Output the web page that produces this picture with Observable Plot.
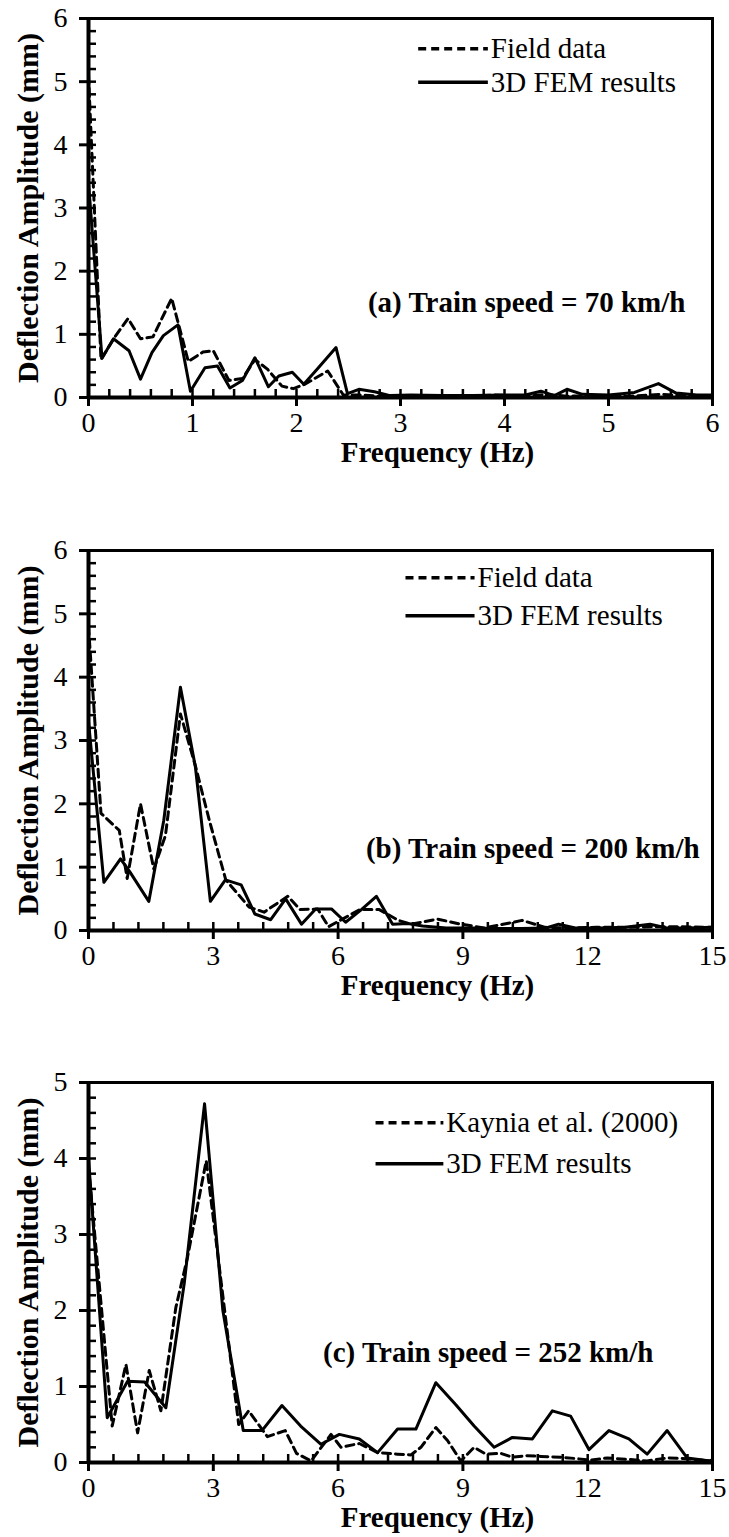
<!DOCTYPE html>
<html>
<head>
<meta charset="utf-8">
<script src="https://cdn.jsdelivr.net/npm/d3@7"></script>
<script src="https://cdn.jsdelivr.net/npm/@observablehq/plot@0.6"></script>
<style>
  html, body { margin: 0; padding: 0; background: #fff; }
  #chart svg { display: block; background: #fff; }
  #chart svg, #chart svg text, #chart svg g {
    font-family: "Liberation Serif", "Times New Roman", Tinos, Times, "Noto Serif", "DejaVu Serif", serif !important;
  }
</style>
</head>
<body>
<div id="chart"></div>
<script>
// ---------- Panel (a): train speed 70 km/h ----------
const freqA_field = [0, 0.12, 0.25, 0.38, 0.5, 0.62, 0.8, 0.96, 1.1, 1.2, 1.35, 1.48, 1.6, 1.72, 1.86, 1.97, 2.08, 2.3, 2.45, 2.6, 2.8, 3.0, 3.3, 3.6, 3.9, 4.2, 4.4, 4.6, 4.9, 5.2, 5.5, 5.8, 6.0];
const ampA_field  = [5.1, 0.6, 0.95, 1.25, 0.93, 0.96, 1.57, 0.57, 0.72, 0.74, 0.27, 0.3, 0.6, 0.45, 0.18, 0.14, 0.21, 0.42, 0.04, 0.04, 0.02, 0.03, 0.03, 0.02, 0.04, 0.02, 0.05, 0.02, 0.03, 0.02, 0.05, 0.02, 0.03];
const freqA_fem = [0, 0.13, 0.24, 0.39, 0.5, 0.61, 0.72, 0.86, 0.98, 1.12, 1.24, 1.36, 1.48, 1.6, 1.73, 1.83, 1.96, 2.07, 2.2, 2.38, 2.49, 2.6, 2.75, 2.9, 3.1, 3.4, 3.7, 4.0, 4.2, 4.35, 4.48, 4.6, 4.75, 5.0, 5.25, 5.48, 5.65, 5.85, 6.0];
const ampA_fem  = [3.4, 0.62, 0.93, 0.74, 0.29, 0.71, 0.98, 1.15, 0.1, 0.47, 0.5, 0.15, 0.27, 0.63, 0.17, 0.34, 0.4, 0.21, 0.45, 0.79, 0.06, 0.13, 0.09, 0.03, 0.04, 0.03, 0.03, 0.04, 0.04, 0.1, 0.03, 0.13, 0.05, 0.04, 0.08, 0.22, 0.07, 0.04, 0.04];

// ---------- Panel (b): train speed 200 km/h ----------
const freqB_field = [0, 0.3, 0.74, 0.93, 1.25, 1.57, 1.85, 2.21, 2.57, 2.9, 3.3, 3.86, 4.22, 4.79, 5.09, 5.51, 5.77, 6.16, 6.52, 6.99, 7.45, 7.76, 8.39, 8.95, 9.52, 10.13, 10.42, 10.98, 11.6, 12.2, 12.95, 13.57, 14.2, 15];
const ampB_field  = [4.8, 1.85, 1.58, 0.82, 2.0, 0.97, 1.5, 3.42, 2.6, 1.75, 0.8, 0.37, 0.29, 0.54, 0.33, 0.34, 0.06, 0.2, 0.33, 0.33, 0.16, 0.1, 0.18, 0.1, 0.04, 0.12, 0.16, 0.05, 0.04, 0.05, 0.05, 0.06, 0.06, 0.05];
const freqB_fem = [0, 0.37, 0.77, 0.99, 1.45, 1.81, 2.21, 2.57, 2.93, 3.29, 3.67, 4.0, 4.38, 4.74, 5.12, 5.46, 5.84, 6.18, 6.56, 6.92, 7.31, 7.68, 8.03, 8.6, 9.2, 9.8, 10.4, 11.0, 11.3, 11.7, 12.3, 12.9, 13.5, 13.9, 14.4, 15];
const ampB_fem  = [3.3, 0.76, 1.13, 0.93, 0.46, 1.74, 3.84, 2.58, 0.46, 0.8, 0.72, 0.26, 0.17, 0.5, 0.1, 0.34, 0.34, 0.13, 0.33, 0.54, 0.1, 0.11, 0.07, 0.04, 0.04, 0.03, 0.03, 0.04, 0.1, 0.04, 0.04, 0.05, 0.1, 0.04, 0.04, 0.05];

// ---------- Panel (c): train speed 252 km/h ----------
const freqC_kaynia = [0, 0.57, 0.9, 1.18, 1.46, 1.74, 2.1, 2.38, 2.83, 3.61, 3.85, 4.3, 4.73, 5.0, 5.35, 5.83, 6.07, 6.51, 6.95, 7.43, 7.75, 7.99, 8.35, 8.63, 8.95, 9.27, 9.55, 9.91, 10.19, 10.55, 10.87, 11.35, 11.75, 12.07, 12.47, 12.99, 13.43, 13.91, 14.39, 14.94, 15];
const ampC_kaynia  = [3.9, 0.48, 1.29, 0.39, 1.21, 0.68, 2.04, 2.7, 3.97, 0.5, 0.68, 0.34, 0.42, 0.12, 0.02, 0.37, 0.2, 0.25, 0.13, 0.11, 0.1, 0.2, 0.46, 0.29, 0.02, 0.2, 0.11, 0.12, 0.07, 0.09, 0.08, 0.07, 0.05, 0.03, 0.06, 0.04, 0.02, 0.06, 0.05, 0.02, 0.03];
const freqC_fem = [0, 0.45, 0.94, 1.35, 1.86, 2.3, 2.79, 3.23, 3.72, 4.17, 4.65, 5.1, 5.59, 6.03, 6.51, 6.95, 7.43, 7.87, 8.35, 8.83, 9.27, 9.75, 10.19, 10.67, 11.15, 11.59, 12.03, 12.51, 12.99, 13.43, 13.91, 14.39, 14.94, 15];
const ampC_fem  = [4.0, 0.59, 1.07, 1.06, 0.72, 2.35, 4.72, 2.0, 0.42, 0.42, 0.75, 0.48, 0.24, 0.37, 0.31, 0.13, 0.44, 0.44, 1.05, 0.76, 0.48, 0.2, 0.33, 0.31, 0.68, 0.61, 0.17, 0.42, 0.31, 0.11, 0.42, 0.06, 0.02, 0.04];

// ---------- Axis ticks and labels ----------
const xTicksA = [0, 1, 2, 3, 4, 5, 6];
const xTicksBC = [0, 3, 6, 9, 12, 15];
const yTicksAB = [0, 1, 2, 3, 4, 5, 6];
const yTicksC = [0, 1, 2, 3, 4, 5];
const xTitle = "Frequency (Hz)";
const yTitle = "Deflection Amplitude (mm)";
const seriesNames = ["Field data", "3D FEM results"];
const seriesNamesC = ["Kaynia et al. (2000)", "3D FEM results"];
const captions = ["(a) Train speed = 70 km/h", "(b) Train speed = 200 km/h", "(c) Train speed = 252 km/h"];

const FONT = "Liberation Serif, Times New Roman, Tinos, Times, Noto Serif, DejaVu Serif, serif";

function minor(max, step) {
  const out = [];
  for (let v = 0; v <= max + 1e-9; v += step) out.push(+v.toFixed(3));
  return out;
}

function panel(cfg) {
  const legendY = cfg.legendY;
  return Plot.plot({
    width: 729,
    height: cfg.height,
    marginLeft: 88,
    marginRight: 17,
    marginTop: 18,
    marginBottom: cfg.height - 18 - cfg.plotH,
    style: {background: "white", color: "black"},
    x: {domain: [0, cfg.xMax]},
    y: {domain: [0, cfg.yMax]},
    marks: [
      Plot.frame({stroke: "black", strokeWidth: 3}),
      // minor (inward) ticks
      Plot.axisX({ticks: minor(cfg.xMax, cfg.xMinor), tickSize: -8, tickFormat: () => "", label: null, strokeWidth: 2.5}),
      Plot.axisY({ticks: minor(cfg.yMax, 0.2), tickSize: -8, tickFormat: () => "", label: null, strokeWidth: 2.5}),
      // major (outward) ticks with labels
      Plot.axisX({ticks: cfg.xTicks, tickSize: 9, tickPadding: 6, fontSize: 28, fontFamily: FONT, label: null, strokeWidth: 3, tickFormat: d => String(d)}),
      Plot.axisY({ticks: cfg.yTicks, tickSize: 9, tickPadding: 12, fontSize: 28, fontFamily: FONT, label: null, strokeWidth: 3, tickFormat: d => String(d)}),
      Plot.ruleY([0], {stroke: "black", strokeWidth: 4}),
      Plot.ruleX([0], {stroke: "black", strokeWidth: 4}),
      // series
      Plot.line(cfg.dashY, {x: cfg.dashX, y: cfg.dashY, stroke: "black", strokeWidth: 3, strokeDasharray: "8,5"}),
      Plot.line(cfg.solidY, {x: cfg.solidX, y: cfg.solidY, stroke: "black", strokeWidth: 3}),
      // legend samples
      Plot.link([cfg.names[0]], {x1: cfg.legendX[0], x2: cfg.legendX[1], y1: legendY[0], y2: legendY[0],
        stroke: "black", strokeWidth: 3.5, strokeDasharray: "8,5"}),
      Plot.link([cfg.names[1]], {x1: cfg.legendX[0], x2: cfg.legendX[1], y1: legendY[1], y2: legendY[1],
        stroke: "black", strokeWidth: 3.5}),
      Plot.text(cfg.names, {x: cfg.legendTextX, y: (d, i) => legendY[i], text: d => d, textAnchor: "start", dx: 3,
        fontSize: 29, fontFamily: FONT, fill: "black"}),
      // caption
      Plot.text([cfg.caption], {x: cfg.captionX, y: cfg.captionY, text: d => d, textAnchor: "end",
        fontSize: 29, fontWeight: "bold", fontFamily: FONT, fill: "black"}),
      // axis titles
      Plot.text([xTitle], {frameAnchor: "bottom", dx: 37, dy: 55, lineAnchor: "middle", textAnchor: "middle", text: d => d,
        fontSize: 29, fontWeight: "bold", fontFamily: FONT, fill: "black"}),
      Plot.text([yTitle], {frameAnchor: "left", dx: -60, rotate: -90, textAnchor: "middle", lineAnchor: "middle", text: d => d,
        fontSize: 30, fontWeight: "bold", fontFamily: FONT, fill: "black"})
    ]
  });
}

const root = document.getElementById("chart");
root.append(panel({
  height: 532, plotH: 379, xMax: 6, yMax: 6, xMinor: 0.2, xTicks: xTicksA, yTicks: yTicksAB,
  dashX: freqA_field, dashY: ampA_field, solidX: freqA_fem, solidY: ampA_fem,
  names: seriesNames, legendX: [3.17, 3.84], legendTextX: 3.84, legendY: [5.52, 4.99],
  caption: captions[0], captionX: 5.74, captionY: 1.5
}));
root.append(panel({
  height: 532, plotH: 380, xMax: 15, yMax: 6, xMinor: 0.6, xTicks: xTicksBC, yTicks: yTicksAB,
  dashX: freqB_field, dashY: ampB_field, solidX: freqB_fem, solidY: ampB_fem,
  names: seriesNames, legendX: [7.62, 9.28], legendTextX: 9.28, legendY: [5.57, 4.97],
  caption: captions[1], captionX: 14.69, captionY: 1.29
}));
root.append(panel({
  height: 473, plotH: 380, xMax: 15, yMax: 5, xMinor: 0.6, xTicks: xTicksBC, yTicks: yTicksC,
  dashX: freqC_kaynia, dashY: ampC_kaynia, solidX: freqC_fem, solidY: ampC_fem,
  names: seriesNamesC, legendX: [6.9, 8.53], legendTextX: 8.53, legendY: [4.47, 3.93],
  caption: captions[2], captionX: 13.58, captionY: 1.45
}));
</script>
</body>
</html>
